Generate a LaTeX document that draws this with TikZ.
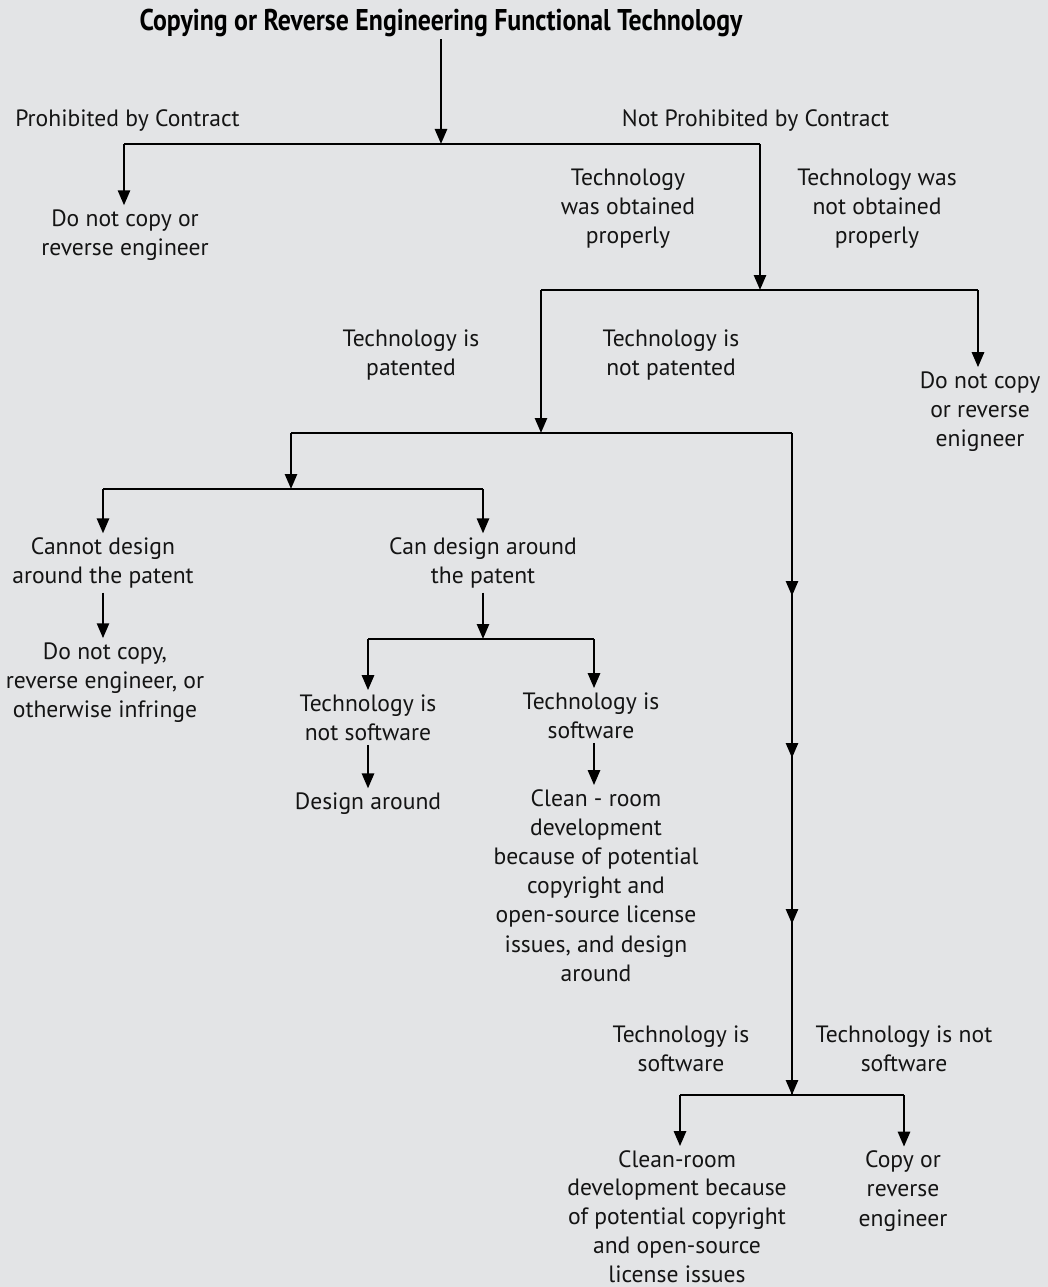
\documentclass[tikz,border=0pt]{standalone}
\usepackage{fontspec}
\setmainfont{PT Sans}
\newfontfamily\titlefont[FakeStretch=0.86]{PT Sans Bold}
\usetikzlibrary{arrows.meta}
\definecolor{bg}{HTML}{E3E4E6}
\definecolor{ink}{HTML}{141414}
\tikzset{
  lbl/.style={align=center, text=ink, font=\fontsize{23.6}{29.2}\selectfont, inner sep=4pt},
  ln/.style={line width=2.6pt, draw=black},
  arr/.style={ln, -{Triangle[length=15pt,width=12pt]}},
}
\begin{document}
\begin{tikzpicture}[x=1pt,y=-1pt]
\fill[bg] (0,0) rectangle (1048,1287);
\useasboundingbox (0,0) rectangle (1048,1287);
% title
\node[text=black, font=\titlefont\fontsize{30}{34}\selectfont, inner sep=2pt] (title) at (441,23) {Copying or Reverse Engineering Functional Technology};
% labels
\node[lbl] (prohib) at (127.5,121) {Prohibited by Contract};
\node[lbl] (notprohib) at (755.5,121) {Not Prohibited by Contract};
\node[lbl] (dnc1) at (125,235) {Do not copy or\\reverse engineer};
\node[lbl] (obt) at (628,208.5) {Technology\\was obtained\\properly};
\node[lbl] (notobt) at (877,208.5) {Technology was\\not obtained\\properly};
\node[lbl] (dnc2) at (980,411.5) {Do not copy\\or reverse\\enigneer};
\node[lbl] (pat) at (411,355) {Technology is\\patented};
\node[lbl] (notpat) at (671,355) {Technology is\\not patented};
\node[lbl] (cannot) at (103,563) {Cannot design\\around the patent};
\node[lbl] (can) at (483,563) {Can design around\\the patent};
\node[lbl] (dnc3) at (105,682.5) {Do not copy,\\reverse engineer, or\\otherwise infringe};
\node[lbl] (notsw1) at (368,717.5) {Technology is\\not software};
\node[lbl] (sw1) at (591,715.5) {Technology is\\software};
\node[lbl] (da) at (368,803.5) {Design around};
\node[lbl] (cr1) at (596,885.5) {Clean - room\\development\\because of potential\\copyright and\\open-source license\\issues, and design\\around};
\node[lbl] (sw2) at (681,1049) {Technology is\\software};
\node[lbl] (notsw2) at (904,1049) {Technology is not\\software};
\node[lbl, font=\fontsize{23.6}{28.8}\selectfont] (cr2) at (677,1216.5) {Clean-room\\development because\\of potential copyright\\and open-source\\license issues};
\node[lbl] (copy) at (903,1191) {Copy or\\reverse\\engineer};
% junctions
\coordinate (j1) at (441,144);
\coordinate (j1l) at (124,144);
\coordinate (j1r) at (760,144);
\coordinate (j2) at (760,290);
\coordinate (j2l) at (541,290);
\coordinate (j2r) at (978,290);
\coordinate (j3) at (541,433);
\coordinate (j3l) at (291,433);
\coordinate (j3r) at (792,433);
\coordinate (j4) at (291,489);
\coordinate (j4l) at (103,489);
\coordinate (j4r) at (483,489);
\coordinate (j5) at (483,639);
\coordinate (j5l) at (368,639);
\coordinate (j5r) at (594,639);
\coordinate (m1) at (792,596);
\coordinate (m2) at (792,758);
\coordinate (m3) at (792,924);
\coordinate (j6) at (792,1095);
\coordinate (j6l) at (680,1095);
\coordinate (j6r) at (904,1095);
% connectors
\draw[arr] (title.south -| j1) -- (j1);
\draw[ln] (j1l) -- (j1r);
\draw[arr] (j1l) -- (j1l |- dnc1.north);
\draw[arr] (j1r) -- (j2);
\draw[ln] (j2l) -- (j2r);
\draw[arr] (j2r) -- (j2r |- dnc2.north);
\draw[arr] (j2l) -- (j3);
\draw[ln] (j3l) -- (j3r);
\draw[arr] (j3l) -- (j4);
\draw[ln] (j4l) -- (j4r);
\draw[arr] (j4l) -- (j4l |- cannot.north);
\draw[arr] (j4r) -- (j4r |- can.north);
\draw[arr] (cannot.south -| j4l) -- (j4l |- dnc3.north);
\draw[arr] (can.south -| j5) -- (j5);
\draw[ln] (j5l) -- (j5r);
\draw[arr] (j5l) -- (j5l |- notsw1.north);
\draw[arr] (j5r) -- (j5r |- sw1.north);
\draw[arr] (notsw1.south -| j5l) -- (j5l |- da.north);
\draw[arr] (sw1.south -| j5r) -- (j5r |- cr1.north);
\draw[ln] (j3r) -- (j6);
\draw[arr] (j3r) -- (m1);
\draw[arr] (m1) -- (m2);
\draw[arr] (m2) -- (m3);
\draw[arr] (m3) -- (j6);
\draw[ln] (j6l) -- (j6r);
\draw[arr] (j6l) -- (j6l |- cr2.north);
\draw[arr] (j6r) -- (j6r |- copy.north);
\end{tikzpicture}
\end{document}
